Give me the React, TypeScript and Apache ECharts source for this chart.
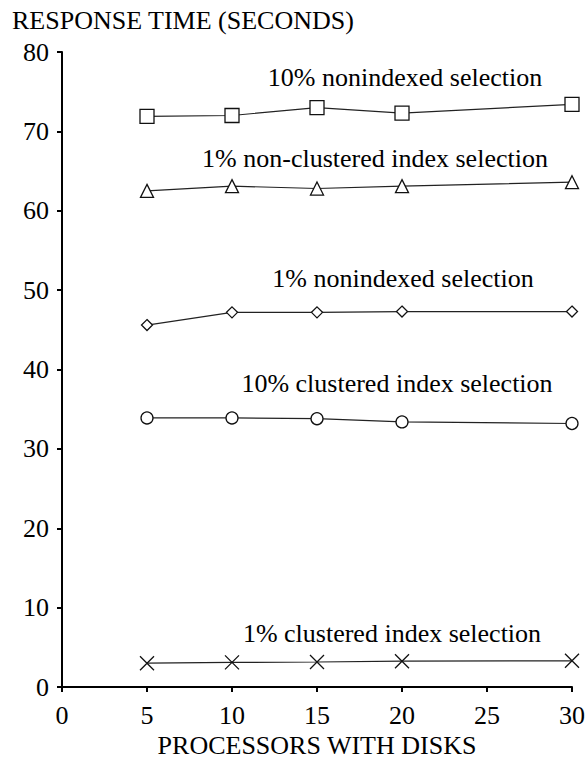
import React, { useEffect, useRef } from "react";
import * as echarts from "echarts";

const processors = [5, 10, 15, 20, 30];
const nonindexed10 = [71.9, 72.0, 73.0, 72.3, 73.4];
const nonClustered1 = [62.5, 63.1, 62.8, 63.1, 63.6];
const nonindexed1 = [45.6, 47.2, 47.2, 47.3, 47.3];
const clustered10 = [33.9, 33.9, 33.8, 33.4, 33.2];
const clustered1 = [3.0, 3.1, 3.15, 3.25, 3.3];

const seriesNames = [
  "10% nonindexed selection",
  "1% non-clustered index selection",
  "1% nonindexed selection",
  "10% clustered index selection",
  "1% clustered index selection",
];

const FONT = "'Liberation Serif', 'Times New Roman', serif";

export default function App() {
  const ref = useRef<HTMLDivElement>(null);
  useEffect(() => {
    document.body.style.margin = "0";
    const chart = echarts.init(ref.current!, null, { renderer: "svg" });
    const mk = (name: string, vals: number[], symbol: string, size: number) => ({
      name,
      type: "line",
      data: processors.map((p, i) => [p, vals[i]]),
      symbol,
      symbolSize: size,
      showAllSymbol: true,
      lineStyle: { color: "#222", width: 1.2 },
      itemStyle: { color: "#fff", borderColor: "#111", borderWidth: 1.3 },
      z: 3,
    });
    const labelPos: [number, number][] = [
      [405, 77],
      [375, 158],
      [403, 278],
      [397, 383],
      [392, 633],
    ];
    chart.setOption({
      animation: false,
      backgroundColor: "#fff",
      grid: { left: 62, right: 15, top: 52, bottom: 74, outerBoundsMode: "none", containLabel: false },
      xAxis: {
        type: "value",
        min: 0,
        max: 30,
        interval: 5,
        name: "PROCESSORS WITH DISKS",
        nameLocation: "middle",
        nameGap: 44,
        nameTextStyle: { fontFamily: FONT, fontSize: 26, color: "#000" },
        axisLine: { show: true, lineStyle: { color: "#000", width: 2 } },
        axisTick: { show: true, length: 5, lineStyle: { color: "#000", width: 2 } },
        axisLabel: { fontFamily: FONT, fontSize: 26, color: "#000", margin: 15 },
        splitLine: { show: false },
      },
      yAxis: {
        type: "value",
        min: 0,
        max: 80,
        interval: 10,
        axisLine: { show: true, lineStyle: { color: "#000", width: 2 } },
        axisTick: { show: true, length: 5, lineStyle: { color: "#000", width: 2 } },
        axisLabel: { fontFamily: FONT, fontSize: 26, color: "#000", margin: 13 },
        splitLine: { show: false },
      },
      graphic: [
        {
          type: "text",
          left: 12,
          top: 7,
          style: { text: "RESPONSE TIME (SECONDS)", font: `26px ${FONT}`, fill: "#000" },
        },
        ...seriesNames.map((n, i) => ({
          type: "text",
          x: labelPos[i][0],
          y: labelPos[i][1],
          style: {
            text: n,
            font: `26px ${FONT}`,
            fill: "#000",
            textAlign: "center",
            textVerticalAlign: "middle",
          },
        })),
      ],
      series: [
        mk(seriesNames[0], nonindexed10, "rect", 14),
        mk(seriesNames[1], nonClustered1, "triangle", 13),
        mk(seriesNames[2], nonindexed1, "diamond", 11),
        mk(seriesNames[3], clustered10, "circle", 12),
        mk(seriesNames[4], clustered1, "path://M0,0L10,10M10,0L0,10", 14),
      ],
    });
    return () => chart.dispose();
  }, []);
  return <div ref={ref} style={{ width: 587, height: 761 }} />;
}
